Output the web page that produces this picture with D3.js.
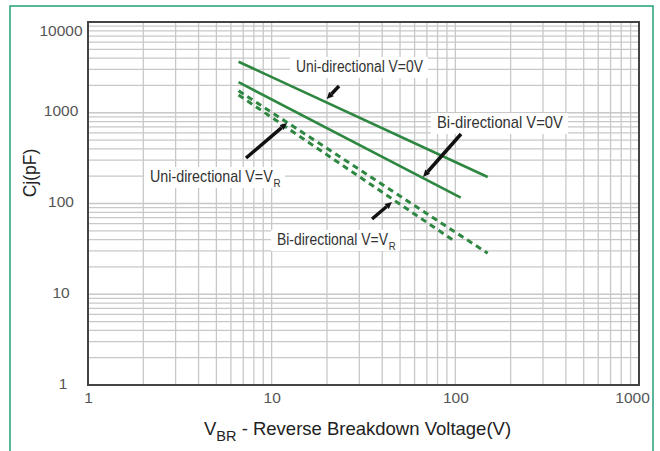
<!DOCTYPE html>
<html><head><meta charset="utf-8">
<script src="https://cdn.jsdelivr.net/npm/d3@7"></script>
<style>body{margin:0;background:#fff} svg{display:block}</style>
</head><body><svg id="c" width="660" height="451"></svg>
<script>
// ---- data ----
const xTicks = [1, 10, 100, 1000];
const yTicks = [1, 10, 100, 1000, 10000];
const uniZero = [[6.6, 3650], [150, 196]];   // Uni-directional V=0V
const biZero  = [[6.6, 2170], [107, 116]];   // Bi-directional V=0V
const uniVR   = [[6.6, 1750], [150, 28.3]];  // Uni-directional V=VR
const biVR    = [[6.6, 1570], [100, 38]];    // Bi-directional V=VR
const seriesLabels = ["Uni-directional V=0V", "Bi-directional V=0V", "Uni-directional V=V", "Bi-directional V=V"];
const seriesSub = ["", "", "R", "R"];

// ---- layout ----
const m = {l: 88, t: 22, r: 639, b: 385};
const svg = d3.select("#c");
const green = "#2e8741";

svg.append("rect").attr("x", 10).attr("y", 6).attr("width", 643).attr("height", 460)
  .attr("fill", "none").attr("stroke", "#22a07a").attr("stroke-width", 1.5);

const x = d3.scaleLog().domain([1, 1000]).range([m.l, m.r]);
const y = d3.scaleLog().domain([1, 10000]).range([m.b, m.t]);

// grid
const gx = [], gy = [];
for (let d = 1; d < 1000; d *= 10) for (let k = 1; k <= 9; k++) gx.push(k * d);
for (let d = 1; d < 10000; d *= 10) for (let k = 1; k <= 9; k++) gy.push(k * d);
const grid = svg.append("g").attr("stroke", "#c8c8c8").attr("stroke-width", 1.3);
grid.selectAll("line.v").data(gx).join("line").attr("class", "v")
  .attr("x1", d => x(d)).attr("x2", d => x(d)).attr("y1", m.t).attr("y2", m.b);
grid.selectAll("line.h").data(gy).join("line").attr("class", "h")
  .attr("y1", d => y(d)).attr("y2", d => y(d)).attr("x1", m.l).attr("x2", m.r);

// series
const series = [
  {d: uniZero, dash: null, w: 2.6},
  {d: biZero, dash: null, w: 2.6},
  {d: uniVR, dash: "6,4.5", w: 3},
  {d: biVR, dash: "6,4.5", w: 3}
];
const line = d3.line().x(p => x(p[0])).y(p => y(p[1]));
svg.append("g").selectAll("path").data(series).join("path")
  .attr("d", s => line(s.d)).attr("fill", "none").attr("stroke", green)
  .attr("stroke-width", s => s.w).attr("stroke-dasharray", s => s.dash);

// frame
svg.append("rect").attr("x", m.l).attr("y", m.t).attr("width", m.r - m.l).attr("height", m.b - m.t)
  .attr("fill", "none").attr("stroke", "#444").attr("stroke-width", 2);

// axes labels
const tickFont = "'Liberation Sans', Arial, sans-serif";
const xAxis = d3.axisBottom(x).tickValues(xTicks).tickFormat(d3.format("d")).tickSize(0).tickPadding(0);
const xg = svg.append("g").attr("transform", `translate(0,${m.b})`).call(xAxis);
xg.select(".domain").remove();
xg.selectAll("text").attr("font-family", tickFont).attr("font-size", 15.5).attr("fill", "#555")
  .attr("y", 7).attr("dy", "0.71em")
  .attr("dx", d => d === 1000 ? -7 : 0);

const yAxis = d3.axisLeft(y).tickValues(yTicks).tickFormat(d3.format("d")).tickSize(0).tickPadding(0);
const yg = svg.append("g").attr("transform", `translate(${m.l},0)`).call(yAxis);
yg.select(".domain").remove();
yg.selectAll("text").attr("font-family", tickFont).attr("font-size", 15.5).attr("fill", "#555")
  .attr("text-anchor", "middle").attr("x", d => d === 1 ? -25 : -27)
  .attr("dy", d => d === 10000 ? "0.85em" : "0.2em");

// axis titles
const xt = svg.append("text").attr("x", 204).attr("y", 435).attr("font-family", tickFont)
  .attr("font-size", 18.5).attr("fill", "#222");
xt.append("tspan").text("V");
xt.append("tspan").text("BR").attr("font-size", 14.5).attr("dy", 6);
xt.append("tspan").text(" - Reverse Breakdown Voltage(V)").attr("dy", -6);

svg.append("text").attr("transform", "translate(36,173) rotate(-90)").attr("text-anchor", "middle")
  .attr("font-family", tickFont).attr("font-size", 17.5).attr("fill", "#222").text("Cj(pF)");

// annotations (data-space anchors)
const annos = [
  {i: 0, at: [13.57, 2812], len: 127, tail: [23.27, 1971], head: [19.93, 1417]},
  {i: 1, at: [79.5, 679], len: 126, tail: [107.4, 583], head: [66.7, 196]},
  {i: 2, at: [2.176, 172.6], len: 130, tail: [7.25, 317], head: [12.12, 771]},
  {i: 3, at: [10.69, 34.9], len: 118, tail: [35.2, 67.5], head: [45.2, 103.9]}
];
const annoFont = "'Liberation Sans Narrow', 'Liberation Sans', Arial, sans-serif";
const ag = svg.append("g");
annos.forEach(a => {
  const g = ag.append("g");
  const bx = x(a.at[0]), by = y(a.at[1]);
  g.append("rect").attr("fill", "#fff")
    .attr("x", bx - 6).attr("y", by - 15).attr("width", a.len + 11).attr("height", 21);
  const tg = g.append("g");
  const t = tg.append("text").attr("x", 0).attr("y", 0).attr("font-family", annoFont)
    .attr("font-size", 16).attr("fill", "#333");
  t.append("tspan").text(seriesLabels[a.i]);
  if (seriesSub[a.i]) t.append("tspan").attr("font-size", 11).attr("dx", 1).attr("dy", 5).text(seriesSub[a.i]);
  const nat = t.node().getComputedTextLength();
  tg.attr("transform", `translate(${bx},${by}) scale(${a.len / nat},1)`);
  // arrow
  const x1 = x(a.tail[0]), y1 = y(a.tail[1]), x2 = x(a.head[0]), y2 = y(a.head[1]);
  const ang = Math.atan2(y2 - y1, x2 - x1);
  const hl = 7, hw = 3.2;
  const bxp = x2 - hl * Math.cos(ang), byp = y2 - hl * Math.sin(ang);
  ag.append("line").attr("x1", x1).attr("y1", y1).attr("x2", bxp).attr("y2", byp)
    .attr("stroke", "#111").attr("stroke-width", 3.5);
  ag.append("path").attr("fill", "#111").attr("d",
    `M${x2},${y2}L${bxp + hw * Math.sin(ang)},${byp - hw * Math.cos(ang)}L${bxp - hw * Math.sin(ang)},${byp + hw * Math.cos(ang)}Z`);
});
</script></body></html>
